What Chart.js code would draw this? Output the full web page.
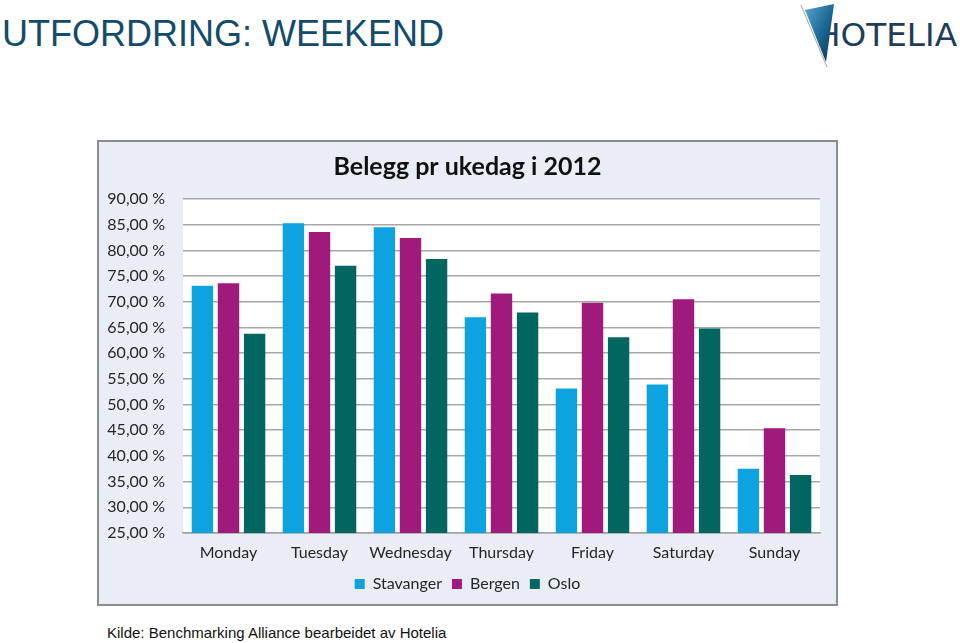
<!DOCTYPE html>
<html><head><meta charset="utf-8">
<script src="https://cdn.jsdelivr.net/npm/chart.js@4"></script>
<style>
html,body{margin:0;padding:0;background:#fff}
body{width:960px;height:643px;position:relative;overflow:hidden;font-family:"Liberation Sans",Arial,sans-serif}
#title{position:absolute;left:2px;top:16px;font-size:36px;color:#134b6b;line-height:1;margin:0;font-weight:normal;white-space:nowrap}
#logo{position:absolute;left:790px;top:0;width:170px;height:72px}
#box{position:absolute;left:97px;top:140px;width:737px;height:462px;border:2px solid #8c8c8c;background:#e9edf6}
#caption{position:absolute;left:107px;top:624px;font-size:15px;color:#111;white-space:nowrap}
</style></head>
<body>
<h1 id="title">UTFORDRING: WEEKEND</h1>
<svg id="logo" viewBox="790 0 170 72" xmlns="http://www.w3.org/2000/svg">
  <defs><linearGradient id="g" x1="0" y1="0" x2="1" y2="1">
    <stop offset="0" stop-color="#5aa6cf"/><stop offset="0.5" stop-color="#1d6b98"/><stop offset="1" stop-color="#0b2e48"/></linearGradient></defs>
  <text x="816" y="46" font-family="DejaVu Sans" font-size="32" fill="#1f3d58" textLength="141" lengthAdjust="spacingAndGlyphs">HOTELIA</text>
  <polygon points="805,10 834,4 826,62" fill="url(#g)"/>
  <line x1="801" y1="5" x2="827" y2="67" stroke="#9aa7b2" stroke-width="1"/>
</svg>
<div id="box"><canvas id="c" width="737" height="462"></canvas></div>
<div id="caption">Kilde: Benchmarking Alliance bearbeidet av Hotelia</div>
<script>
const days = ['Monday','Tuesday','Wednesday','Thursday','Friday','Saturday','Sunday'];
const stavanger = [73.1, 85.3, 84.5, 67.0, 53.1, 53.9, 37.5];
const bergen    = [73.6, 83.6, 82.4, 71.6, 69.8, 70.5, 45.4];
const oslo      = [63.8, 77.0, 78.3, 67.9, 63.1, 64.8, 36.3];
const yMin = 25, yMax = 90, yStep = 5;

const plotBg = {
  id:'plotBg',
  afterLayout(chart){
    // centre title and legend over the whole chart box
    [chart.titleBlock, chart.legend].forEach(b=>{
      if(b){ b.left = 0; b.right = chart.width; b.width = chart.width; }
    });
  },
  beforeDraw(chart){
    const {ctx, chartArea:a} = chart;
    ctx.save(); ctx.fillStyle='#ffffff';
    ctx.fillRect(a.left, a.top, a.right-a.left, a.bottom-a.top);
    ctx.restore();
  }
};

const fontFam = 'Lato, "Open Sans", sans-serif';
const txt = '#262626';
new Chart(document.getElementById('c'), {
  type:'bar',
  data:{
    labels: days,
    datasets:[
      {label:'Stavanger', data:stavanger, backgroundColor:'#0ca3e0'},
      {label:'Bergen', data:bergen, backgroundColor:'#9f1a7b'},
      {label:'Oslo', data:oslo, backgroundColor:'#00665f'}
    ]
  },
  options:{
    responsive:false, animation:false,
    devicePixelRatio:1,
    layout:{padding:{left:0,right:16,top:0,bottom:2}},
    datasets:{bar:{categoryPercentage:0.86, barPercentage:0.82}},
    plugins:{
      title:{display:true, text:'Belegg pr ukedag i 2012', color:'#111',
        font:{family:fontFam, size:25, weight:'bold'}, padding:{top:10,bottom:17}},
      legend:{position:'bottom',
        labels:{color:txt, boxWidth:10, boxHeight:10, padding:10,
          font:{family:fontFam, size:16}}},
      tooltip:{enabled:false}
    },
    scales:{
      x:{grid:{display:false, drawTicks:false},
         border:{display:true, color:'#a0a0a0', width:1.5},
         afterFit(s){ s.height = 33; },
         ticks:{color:txt, padding:10, font:{family:fontFam, size:16}}},
      y:{min:yMin, max:yMax,
         grid:{color:'#a8a8a8', lineWidth:1.5, drawTicks:false},
         border:{display:false},
         afterFit(s){ s.width = 84; },
         ticks:{stepSize:yStep, color:txt, padding:18, font:{family:fontFam, size:16},
           callback:v=>v.toFixed(2).replace('.',',')+' %'}}
    }
  },
  plugins:[plotBg]
});
</script>
</body></html>
